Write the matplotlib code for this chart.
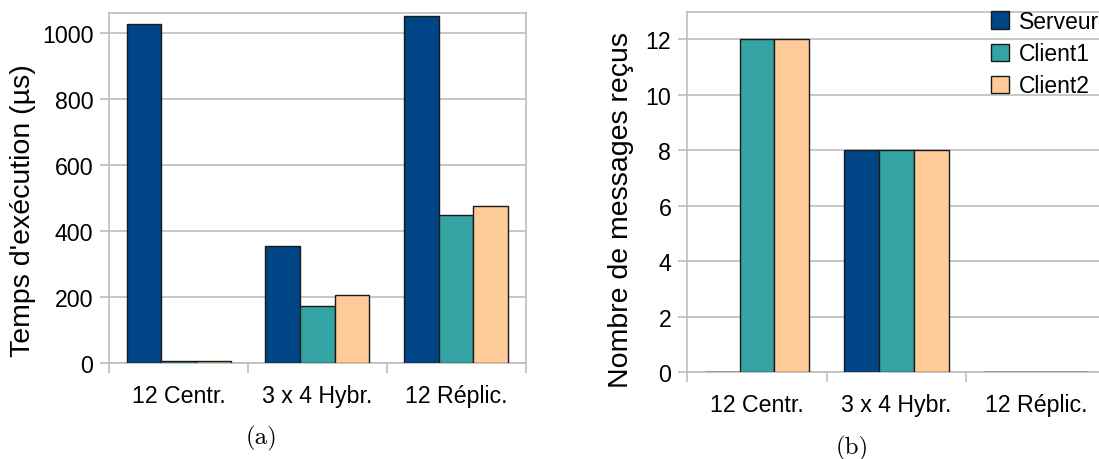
import matplotlib
matplotlib.use("Agg")
import matplotlib.pyplot as plt

plt.rcParams["font.family"] = ["Liberation Sans", "DejaVu Sans"]

categories = ["12 Centr.", "3 x 4 Hybr.", "12 Réplic."]
series_names = ["Serveur", "Client1", "Client2"]
colors = ["#004586", "#33a3a3", "#ffcc99"]

# (a) temps d'execution en microsecondes
temps_serveur = [1028, 354, 1050]
temps_client1 = [5, 171, 449]
temps_client2 = [5, 205, 474]

# (b) nombre de messages recus
msg_serveur = [0, 8, 0]
msg_client1 = [12, 8, 0]
msg_client2 = [12, 8, 0]

GRID = "#bdbdbd"
W = 0.25

fig = plt.figure(figsize=(10.99, 4.6), dpi=100)
ax_a = fig.add_axes([109.3 / 1099, 1 - 363.7 / 460, 416.2 / 1099, 349.4 / 460])
ax_b = fig.add_axes([687.3 / 1099, 1 - 373.3 / 460, 418.2 / 1099, 360.6 / 460])


def draw(ax, data, ylim, yticks, ylabel, label_xy):
    for j, (vals, name, col) in enumerate(zip(data, series_names, colors)):
        xs = [i + (j - 1) * W for i in range(len(categories))]
        ax.bar(xs, vals, width=W, color=col, edgecolor="#1a1a1a",
               linewidth=1.0, label=name, zorder=3)
    ax.set_xlim(-0.5, len(categories) - 0.5)
    ax.set_ylim(0, ylim)
    ax.set_yticks(yticks)
    # tick marks sit between groups, labels at group centres
    ax.set_xticks([-0.5, 0.5, 1.5, 2.5])
    ax.set_xticklabels([])
    ax.set_xticks(range(len(categories)), minor=True)
    ax.set_xticklabels(categories, minor=True)
    ax.tick_params(axis="x", which="minor", length=0, pad=15, labelsize=16.7)
    ax.tick_params(axis="x", which="major", length=7.5, color=GRID, width=1.2)
    ax.tick_params(axis="y", length=6.5, color=GRID, width=1.2, pad=5, labelsize=16.7)
    ax.yaxis.grid(True, color=GRID, linewidth=1.2, zorder=0)
    for s in ax.spines.values():
        s.set_color(GRID)
        s.set_linewidth(1.2)
    ax.set_ylabel(ylabel, fontsize=20.5)
    ax.yaxis.set_label_coords(*label_xy)


draw(ax_a, [temps_serveur, temps_client1, temps_client2], 1059,
     [0, 200, 400, 600, 800, 1000], "Temps d'exécution (µs)", (-0.177, 0.437))
draw(ax_b, [msg_serveur, msg_client1, msg_client2], 13,
     [0, 2, 4, 6, 8, 10, 12], "Nombre de messages reçus", (-0.128, 0.454))

ax_b.legend(loc="upper left", bbox_to_anchor=(991 / 1099, 1 - 11 / 460),
            bbox_transform=fig.transFigure, frameon=False, fontsize=16.5,
            handlelength=0.78, handleheight=0.78, handletextpad=0.45,
            labelspacing=0.4, borderpad=0, borderaxespad=0)

fig.text(262 / 1099, 1 - 438.5 / 460, "(a)", ha="center", va="center",
         family="cmr10", fontsize=18)
fig.text(852 / 1099, 1 - 448 / 460, "(b)", ha="center", va="center",
         family="cmr10", fontsize=18)

fig.savefig("out.png", dpi=100)
